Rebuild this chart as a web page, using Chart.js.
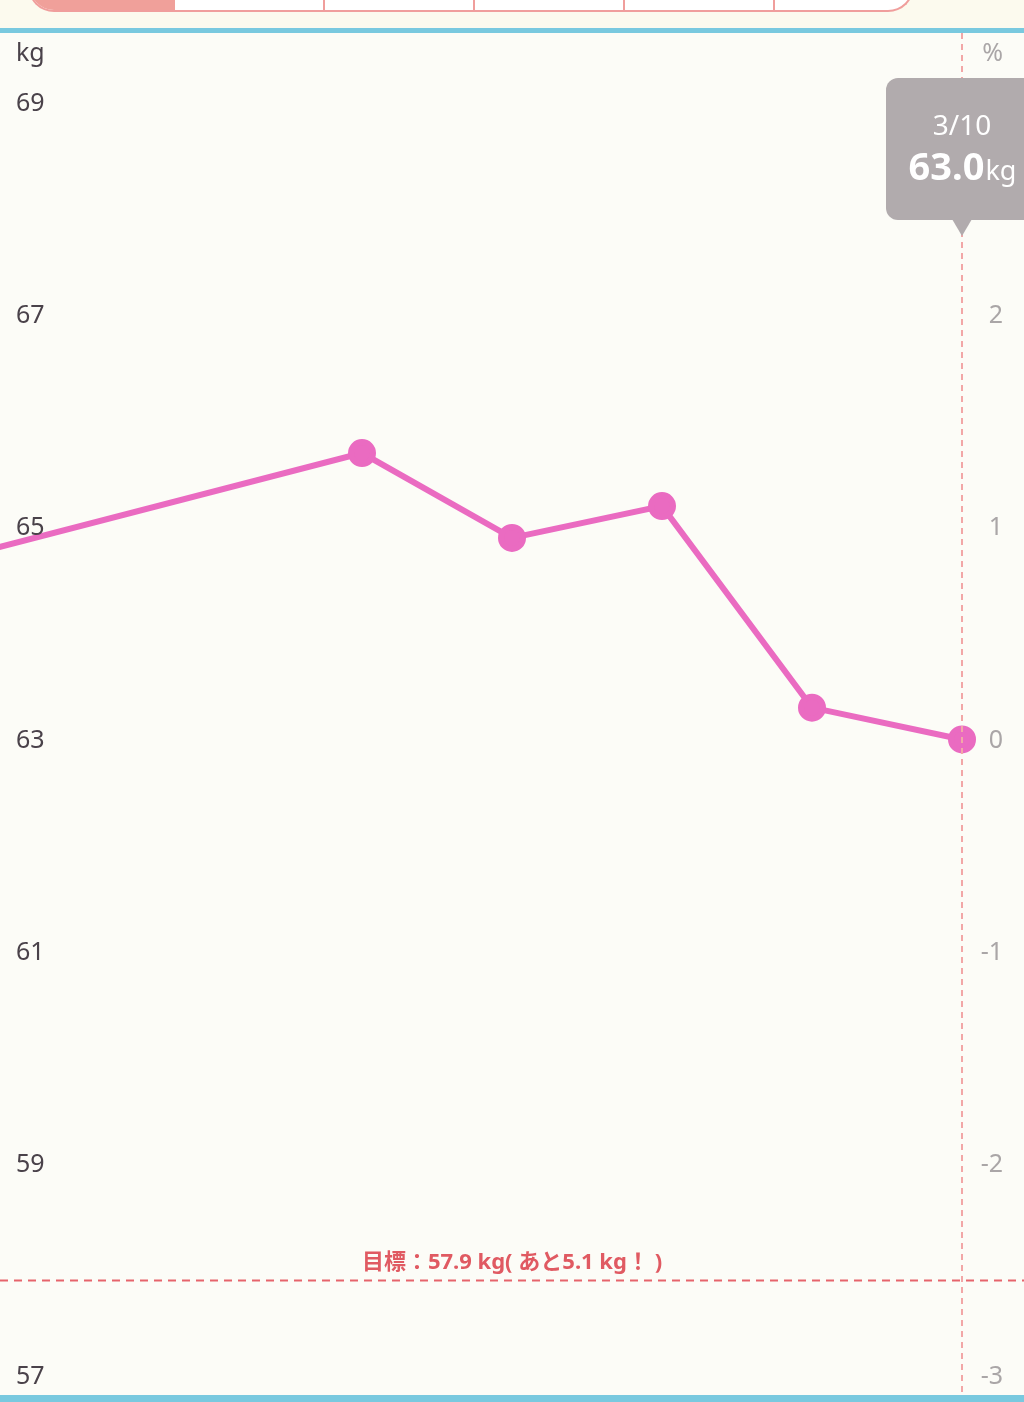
<!DOCTYPE html>
<html>
<head>
<meta charset="utf-8">
<script src="https://cdn.jsdelivr.net/npm/chart.js@4.4.1/dist/chart.umd.min.js"></script>
<style>
  html, body { margin: 0; padding: 0; background: #fcfbf1; }
  body { width: 1024px; height: 1402px; overflow: hidden; position: relative; }
  #head { position: absolute; left: 0; top: 0; width: 1024px; height: 29px; background: #fcfaee; }
  #tabs {
    position: absolute; left: 28px; top: -30px; width: 882px; height: 40px;
    border: 2px solid #f09e9c; border-top: none; border-radius: 0 0 26px 26px;
    background: #fff; overflow: hidden; display: flex;
  }
  #tabs div { flex: 0 0 150px; border-right: 2px solid #f09e9c; box-sizing: border-box; }
  #tabs div.on { flex-basis: 145px; background: #f0a09a; border-right: none; }
  #tabs div.last { border-right: none; flex: 1; }
  .blue { position: absolute; left: 0; width: 1024px; background: #79c9df; }
  #chartBox { position: absolute; left: 0; top: 33px; width: 1024px; height: 1362px; background: #fcfcf7; }
</style>
</head>
<body>
<div id="head"><div id="tabs"><div class="on"></div><div></div><div></div><div></div><div></div><div class="last"></div></div></div>
<div class="blue" style="top:28px;height:5px;"></div>
<div id="chartBox"><canvas id="weightChart" width="1024" height="1362"></canvas></div>
<div class="blue" style="top:1395px;height:7px;"></div>

<script>
// ---- データ ----
const days     = [3, 6, 7, 8, 9, 10];          // 3月の日付
const weights  = [64.6, 65.7, 64.9, 65.2, 63.3, 63.0];
const kgTicks  = [57, 59, 61, 63, 65, 67, 69];
const pctTicks = [-3, -2, -1, 0, 1, 2];
const goalWeight = 57.9;
const selectedLabel = "3/10";

const FONT = "'Noto Sans', 'Noto Sans CJK JP', sans-serif";
const KG_MIN = 56.82, KG_MAX = 69.66;
const BASE = weights[weights.length - 1];

const overlay = {
  id: "overlay",
  afterDraw(chart) {
    const { ctx, scales, chartArea } = chart;
    const xSel = scales.x.getPixelForValue(days[days.length - 1]);
    const yGoal = scales.y.getPixelForValue(goalWeight);

    ctx.save();
    ctx.textBaseline = "middle";
    ctx.font = `25px ${FONT}`;

    // 目盛り (左: kg, 右: %)
    ctx.fillStyle = "#4a424a";
    ctx.textAlign = "left";
    ctx.fillText("kg", 16, 21);
    kgTicks.forEach(v => ctx.fillText(String(v), 16, scales.y.getPixelForValue(v) + 1));

    ctx.fillStyle = "#aaa6a7";
    ctx.textAlign = "right";
    ctx.fillText("%", 1003, 21);
    pctTicks.forEach(v => ctx.fillText(String(v), 1003, scales.y1.getPixelForValue(v) + 1));

    // 選択日の縦線
    ctx.beginPath();
    ctx.setLineDash([6, 5]);
    ctx.lineWidth = 2;
    ctx.strokeStyle = "#f2a7a7";
    ctx.moveTo(xSel, chartArea.top);
    ctx.lineTo(xSel, chartArea.bottom);
    ctx.stroke();

    // 目標ライン
    ctx.beginPath();
    ctx.setLineDash([8, 6]);
    ctx.strokeStyle = "#e6646c";
    ctx.moveTo(chartArea.left, yGoal);
    ctx.lineTo(chartArea.right, yGoal);
    ctx.stroke();
    ctx.setLineDash([]);

    const remain = (BASE - goalWeight).toFixed(1);
    ctx.font = `bold 22px ${FONT}`;
    ctx.fillStyle = "#e05a62";
    ctx.textAlign = "center";
    ctx.fillText(`目標：${goalWeight.toFixed(1)} kg( あと${remain} kg！ )`, 512, yGoal - 18);

    // 吹き出し
    const bx = xSel - 76, by = 45, bw = 152, bh = 142, r = 12;
    ctx.fillStyle = "#b1abad";
    ctx.beginPath();
    ctx.roundRect(bx, by, bw, bh, r);
    ctx.fill();
    ctx.beginPath();
    ctx.moveTo(xSel - 10, by + bh - 1);
    ctx.lineTo(xSel + 10, by + bh - 1);
    ctx.lineTo(xSel, by + bh + 16);
    ctx.closePath();
    ctx.fill();

    ctx.fillStyle = "#ffffff";
    ctx.textAlign = "center";
    ctx.font = `28px ${FONT}`;
    ctx.fillText(selectedLabel, xSel, 94);
    const big = BASE.toFixed(1);
    ctx.font = `bold 38px ${FONT}`;
    const wBig = ctx.measureText(big).width;
    ctx.font = `27px ${FONT}`;
    const wKg = ctx.measureText("kg").width;
    const x0 = xSel - (wBig + wKg) / 2;
    ctx.textAlign = "left";
    ctx.textBaseline = "alphabetic";
    ctx.font = `bold 38px ${FONT}`;
    ctx.fillText(big, x0, 147);
    ctx.font = `27px ${FONT}`;
    ctx.fillText("kg", x0 + wBig + 1, 147);
    ctx.restore();
  }
};

new Chart(document.getElementById("weightChart"), {
  type: "line",
  data: {
    datasets: [{
      data: days.map((d, i) => ({ x: d, y: weights[i] })),
      borderColor: "#ea6bc1",
      backgroundColor: "#ea6bc1",
      borderWidth: 6,
      pointRadius: 11,
      pointHoverRadius: 11,
      tension: 0
    }]
  },
  plugins: [overlay],
  options: {
    responsive: false,
    animation: false,
    devicePixelRatio: 1,
    layout: { padding: 0, autoPadding: false },
    plugins: { legend: { display: false }, tooltip: { enabled: false } },
    events: [],
    scales: {
      x: {
        type: "linear",
        min: 10 - 962 / 150,
        max: 10 + 62 / 150,
        display: false
      },
      y: {
        position: "left",
        min: KG_MIN,
        max: KG_MAX,
        display: false
      },
      y1: {
        position: "right",
        min: (KG_MIN - BASE) / 2,
        max: (KG_MAX - BASE) / 2,
        display: false
      }
    }
  }
});
</script>
</body>
</html>
